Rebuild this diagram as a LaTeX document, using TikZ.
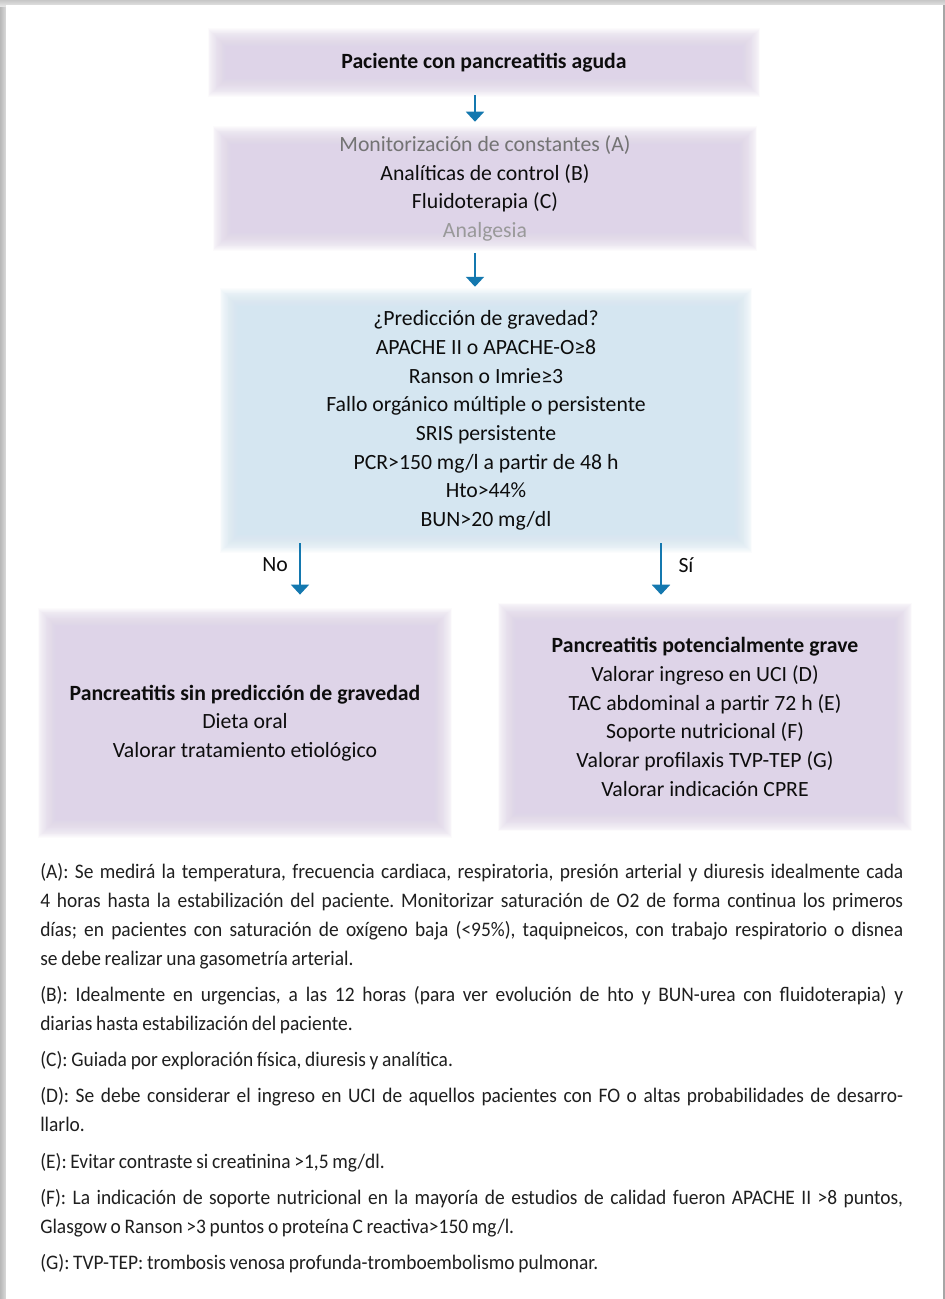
\documentclass[tikz,border=0pt]{standalone}
\usepackage{fontspec}
\setmainfont{Carlito}
\newfontfamily\notafont[FakeStretch=0.94,WordSpace=0.85]{Carlito}
\usepackage{tikz}
\usetikzlibrary{arrows.meta,positioning,backgrounds}

\definecolor{lila}{RGB}{222,212,232}
\definecolor{celeste}{RGB}{213,230,241}
\definecolor{azulflecha}{RGB}{20,120,175}

\tikzset{
  caja/.style={align=center, inner sep=0pt, text=black!95,
    font=\fontsize{16.3pt}{21.5pt}\selectfont},
  flecha/.style={draw=azulflecha, line width=1.5pt,
    -{Triangle[width=13.5pt,length=7.5pt]}},
  notas/.style={anchor=north west, inner sep=0pt, text width=647.25pt,
    align=justify, text=black!88,
    font=\notafont\fontsize{15.5pt}{21.75pt}\selectfont}
}

% box with soft (faded) edges, drawn behind a named node
\newcommand{\cajadifusa}[2]{%
  \foreach \k in {0,...,23}{%
    \fill[#2, fill opacity=0.09]
      ([xshift=\k*0.65pt,yshift=\k*0.65pt]#1.south west) rectangle
      ([xshift=-\k*0.65pt,yshift=-\k*0.65pt]#1.north east);
  }
  \fill[#2] ([xshift=15.6pt,yshift=15.6pt]#1.south west) rectangle
    ([xshift=-15.6pt,yshift=-15.6pt]#1.north east);}

\begin{document}
\begin{tikzpicture}[x=0.75pt,y=-0.75pt]
\useasboundingbox (0,0) rectangle (945,1299);

% flowchart
\node[caja, minimum width=414pt, minimum height=51pt] (inicio) at (484,62.5)
  {\textbf{Paciente con pancreatitis aguda}};
\node[caja, minimum width=408pt, minimum height=93pt] (medidas) at (485,188.5)
  {{\color{black!55}Monitorización de constantes (A)}\\
   Analíticas de control (B)\\
   Fluidoterapia (C)\\
   {\color{black!40}Analgesia}};
\node[caja, minimum width=399pt, minimum height=198pt] (gravedad) at (486,420.5)
  {¿Predicción de gravedad?\\
   APACHE II o APACHE-O≥8\\
   Ranson o Imrie≥3\\
   Fallo orgánico múltiple o persistente\\
   SRIS persistente\\
   PCR>150 mg/l a partir de 48 h\\
   Hto>44\%\\
   BUN>20 mg/dl};
\node[caja, minimum width=310.5pt, minimum height=172pt] (leve) at (245,723)
  {\textbf{Pancreatitis sin predicción de gravedad}\\
   Dieta oral\\
   Valorar tratamiento etiológico};
\node[caja, minimum width=310.5pt, minimum height=171pt] (grave) at (705,717)
  {\textbf{Pancreatitis potencialmente grave}\\
   Valorar ingreso en UCI (D)\\
   TAC abdominal a partir 72 h (E)\\
   Soporte nutricional (F)\\
   Valorar profilaxis TVP-TEP (G)\\
   Valorar indicación CPRE};

\begin{pgfonlayer}{background}
% page frame with shadow
\shade[left color=black!28, right color=black!12] (0,0) rectangle (7,1299);
\shade[top color=black!22, bottom color=black!10] (0,0) rectangle (945,6);
\fill[white] (6,5) rectangle (943,1299);
\draw[black!35, line width=1pt] (944,5) -- (944,1299);
\cajadifusa{inicio}{lila}
\cajadifusa{medidas}{lila}
\cajadifusa{gravedad}{celeste}
\cajadifusa{leve}{lila}
\cajadifusa{grave}{lila}
\end{pgfonlayer}

% arrows
\coordinate (f1) at (475,0);
\coordinate (fno) at (300,0);
\coordinate (fsi) at (661,0);
\draw[flecha, shorten <=-1.1pt, shorten >=3.4pt] (inicio.south -| f1) -- (medidas.north -| f1);
\draw[flecha, shorten <=1.9pt, shorten >=1.1pt] (medidas.south -| f1) -- (gravedad.north -| f1);
\draw[flecha, shorten <=-7.1pt, shorten >=10.1pt] (gravedad.south -| fno) -- (leve.north -| fno);
\draw[flecha, shorten <=-7.1pt, shorten >=6pt] (gravedad.south -| fsi) -- (grave.north -| fsi);
\node[caja] (no) at (275,565) {No};
\node[caja] (si) at (686,565) {Sí};

% footnotes
\node[notas] (leyenda) at (40,863) {\parindent=0pt\parskip=5.4pt\hyphenpenalty=10000\frenchspacing
(A): Se medirá la temperatura, frecuencia cardiaca, respiratoria, presión arterial y diuresis idealmente cada\linebreak
4 horas hasta la estabilización del paciente. Monitorizar saturación de O2 de forma continua los primeros\linebreak
días; en pacientes con saturación de oxígeno baja (<95\%), taquipneicos, con trabajo respiratorio o disnea\linebreak
se debe realizar una gasometría arterial.\par
(B): Idealmente en urgencias, a las 12 horas (para ver evolución de hto y BUN-urea con fluidoterapia) y\linebreak
diarias hasta estabilización del paciente.\par
(C): Guiada por exploración física, diuresis y analítica.\par
(D): Se debe considerar el ingreso en UCI de aquellos pacientes con FO o altas probabilidades de desarro-\linebreak
llarlo.\par
(E): Evitar contraste si creatinina >1,5 mg/dl.\par
(F): La indicación de soporte nutricional en la mayoría de estudios de calidad fueron APACHE II >8 puntos,\linebreak
Glasgow o Ranson >3 puntos o proteína C reactiva>150 mg/l.\par
(G): TVP-TEP: trombosis venosa profunda-tromboembolismo pulmonar.};
\end{tikzpicture}
\end{document}
